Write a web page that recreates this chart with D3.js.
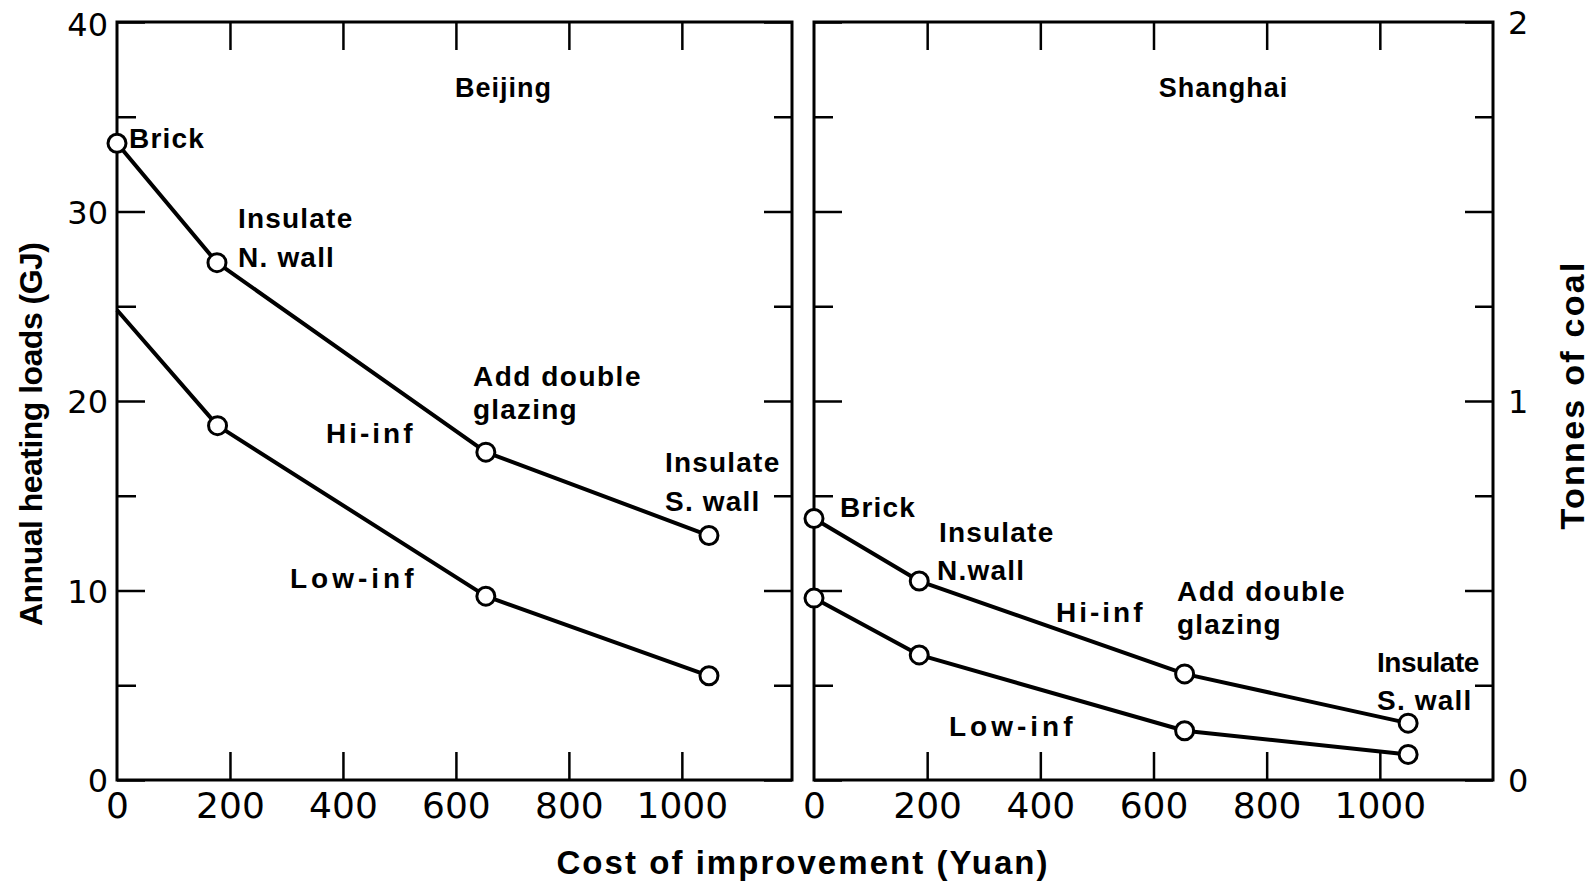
<!DOCTYPE html>
<html>
<head>
<meta charset="utf-8">
<script src="https://cdn.jsdelivr.net/npm/d3@7"></script>
<style>
  html, body { margin: 0; padding: 0; background: #fff; }
  svg { display: block; }
  text { fill: #000; }
</style>
</head>
<body>
<svg id="chart" width="1595" height="895"></svg>
<script>
// ---------------- DATA ----------------
const steps = ["Brick", "Insulate N. wall", "Add double glazing", "Insulate S. wall"];

const beijingCost   = [0, 177, 653, 1048];
const beijingHiInf  = [33.6, 27.3, 17.3, 12.9];
const beijingLowCost = [0, 178, 653, 1048];
const beijingLowInf = [24.8, 18.7, 9.7, 5.5];
const beijingLowMarked = [false, true, true, true];

const shanghaiCost   = [0, 186, 655, 1050];
const shanghaiHiInf  = [13.8, 10.5, 5.6, 3.0];
const shanghaiLowInf = [9.6, 6.6, 2.6, 1.35];

const xTickLabels = [0, 200, 400, 600, 800, 1000];
const xTopTicks = [200, 400, 600, 800, 1000];
const yMajorTicks = [0, 10, 20, 30, 40];
const yMinorTicks = [5, 15, 25, 35];
const coalTicks = [0, 1, 2];

// ---------------- LAYOUT ----------------
const svg = d3.select("#chart");
const topY = 22, botY = 780;
const panels = [
  { name: "Beijing", x0: 117, x1: 792, xmax: 1195 },
  { name: "Shanghai", x0: 814, x1: 1493, xmax: 1200 }
];
const y = d3.scaleLinear().domain([0, 40]).range([botY, topY]);
const yCoal = d3.scaleLinear().domain([0, 2]).range([botY, topY]);

const FONT = "'Liberation Sans', Arial, sans-serif";
const NUMFONT = "'DejaVu Sans', sans-serif";

function styleTicks(g, w) {
  g.select(".domain").remove();
  g.selectAll(".tick line").attr("stroke", "#000").attr("stroke-width", w);
}

panels.forEach((p, i) => {
  p.x = d3.scaleLinear().domain([0, p.xmax]).range([p.x0, p.x1]);
  const g = svg.append("g");

  // left side ticks (inward)
  const lMaj = g.append("g").attr("transform", `translate(${p.x0},0)`)
    .call(d3.axisLeft(y).tickValues(yMajorTicks).tickSizeInner(-28).tickSizeOuter(0).tickPadding(9)
      .tickFormat(i === 0 ? d3.format("d") : () => ""));
  styleTicks(lMaj, 2.5);
  lMaj.selectAll(".tick text").attr("font-family", NUMFONT).attr("font-size", 32).attr("fill", "#000")
    .attr("dy", "0.36em");
  lMaj.selectAll(".tick").filter(d => d === 40).select("text").attr("dy", "0.42em");
  const lMin = g.append("g").attr("transform", `translate(${p.x0},0)`)
    .call(d3.axisLeft(y).tickValues(yMinorTicks).tickSizeInner(-19).tickSizeOuter(0).tickFormat(() => ""));
  styleTicks(lMin, 2.5);

  // right side ticks (inward)
  const rMaj = g.append("g").attr("transform", `translate(${p.x1},0)`)
    .call(d3.axisRight(y).tickValues(yMajorTicks).tickSizeInner(-28).tickSizeOuter(0).tickFormat(() => ""));
  styleTicks(rMaj, 2.5);
  const rMin = g.append("g").attr("transform", `translate(${p.x1},0)`)
    .call(d3.axisRight(y).tickValues(yMinorTicks).tickSizeInner(-18).tickSizeOuter(0).tickFormat(() => ""));
  styleTicks(rMin, 2.5);

  // top ticks
  const tAx = g.append("g").attr("transform", `translate(0,${topY})`)
    .call(d3.axisTop(p.x).tickValues(xTopTicks).tickSizeInner(-28).tickSizeOuter(0).tickFormat(() => ""));
  styleTicks(tAx, 2.5);

  // bottom ticks + labels
  const bAx = g.append("g").attr("transform", `translate(0,${botY})`)
    .call(d3.axisBottom(p.x).tickValues(xTickLabels).tickSizeInner(-28).tickSizeOuter(0).tickPadding(12)
      .tickFormat(d3.format("d")));
  styleTicks(bAx, 2.5);
  bAx.selectAll(".tick").filter(d => d === 0).select("line").remove();
  bAx.selectAll(".tick text").attr("font-family", NUMFONT).attr("font-size", 36).attr("fill", "#000")
    .attr("dy", "0.72em");

  // frame
  g.append("rect").attr("x", p.x0).attr("y", topY).attr("width", p.x1 - p.x0).attr("height", botY - topY)
    .attr("fill", "none").attr("stroke", "#000").attr("stroke-width", 3);

  // panel title
  g.append("text").attr("x", (p.x0 + p.x1) / 2 + (i === 0 ? 49 : 70)).attr("y", 97)
    .attr("text-anchor", "middle").attr("font-family", FONT).attr("font-weight", "bold")
    .attr("font-size", 27).attr("letter-spacing", 1).text(p.name);
});

// right-hand coal axis labels
const coalAx = svg.append("g").attr("transform", `translate(${panels[1].x1},0)`)
  .call(d3.axisRight(yCoal).tickValues(coalTicks).tickSize(0).tickPadding(15).tickFormat(d3.format("d")));
coalAx.select(".domain").remove();
coalAx.selectAll(".tick text").attr("font-family", NUMFONT).attr("font-size", 32).attr("fill", "#000")
  .attr("dy", "0.36em");

// ---------------- SERIES ----------------
function drawSeries(panel, costs, vals, marked) {
  const data = vals.map((v, i) => ({ c: costs[i], v, m: marked ? marked[i] : true }));
  svg.append("path").datum(data)
    .attr("d", d3.line().x(d => panel.x(d.c)).y(d => y(d.v)))
    .attr("fill", "none").attr("stroke", "#000").attr("stroke-width", 4).attr("stroke-linejoin", "round");
  svg.append("g").selectAll("circle").data(data.filter(d => d.m)).join("circle")
    .attr("cx", d => panel.x(d.c)).attr("cy", d => y(d.v)).attr("r", 9)
    .attr("fill", "#fff").attr("stroke", "#000").attr("stroke-width", 3);
}
drawSeries(panels[0], beijingCost, beijingHiInf);
drawSeries(panels[0], beijingLowCost, beijingLowInf, beijingLowMarked);
drawSeries(panels[1], shanghaiCost, shanghaiHiInf);
drawSeries(panels[1], shanghaiCost, shanghaiLowInf);

// ---------------- ANNOTATIONS ----------------
const labels = [
  ["Brick", 129, 148, 1.2], ["Insulate", 238, 228, 1.2], ["N. wall", 238, 267, 1.2],
  ["Hi-inf", 326, 443, 3], ["Add double", 473, 386, 1.5], ["glazing", 473, 419, 1.2],
  ["Insulate", 665, 472, 1.2], ["S. wall", 665, 511, 1.2], ["Low-inf", 290, 588, 4],
  ["Brick", 840, 517, 1.2], ["Insulate", 939, 542, 1.2], ["N.wall", 937, 580, 1.2],
  ["Hi-inf", 1056, 622, 3], ["Add double", 1177, 601, 1.5], ["glazing", 1177, 634, 1.2],
  ["Low-inf", 949, 736, 4], ["Insulate", 1377, 672, -0.5], ["S. wall", 1377, 710, 1.2]
];
svg.append("g").selectAll("text").data(labels).join("text")
  .attr("x", d => d[1])
  .attr("y", d => d[2])
  .attr("font-family", FONT).attr("font-weight", "bold").attr("font-size", 28)
  .attr("letter-spacing", d => d[3])
  .text(d => d[0]);

// ---------------- AXIS TITLES ----------------
svg.append("text").attr("transform", "translate(42,434) rotate(-90)")
  .attr("text-anchor", "middle").attr("font-family", FONT).attr("font-weight", "bold")
  .attr("font-size", 32).attr("textLength", 384).attr("lengthAdjust", "spacing")
  .text("Annual heating loads (GJ)");

svg.append("text").attr("transform", "translate(1584,396) rotate(-90)")
  .attr("text-anchor", "middle").attr("font-family", FONT).attr("font-weight", "bold")
  .attr("font-size", 34).attr("textLength", 267).attr("lengthAdjust", "spacing")
  .text("Tonnes of coal");

svg.append("text").attr("x", 802).attr("y", 874)
  .attr("text-anchor", "middle").attr("font-family", FONT).attr("font-weight", "bold")
  .attr("font-size", 33).attr("textLength", 491).attr("lengthAdjust", "spacing")
  .text("Cost of improvement (Yuan)");
</script>
</body>
</html>
